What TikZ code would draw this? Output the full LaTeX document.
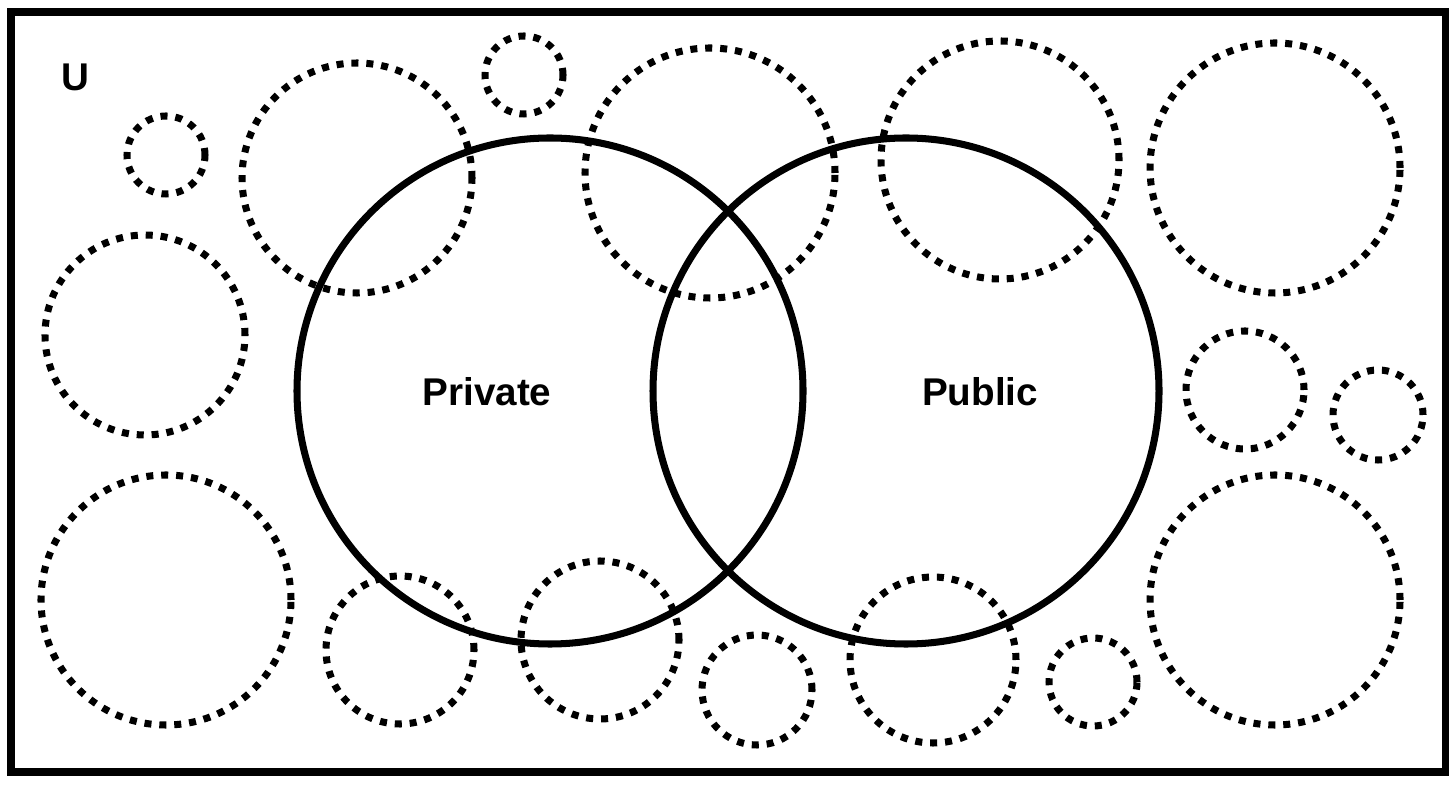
\documentclass[tikz,border=0pt]{standalone}
\usepackage{fontspec}
\usepackage{tikz}
\usetikzlibrary{positioning,calc}
\newfontfamily\vennfont{Liberation Sans}

\tikzset{
    dotcircle/.style={line width=4pt, dash pattern=on 4pt off 4.5pt},
    setcircle/.style={line width=4pt},
    setlabel/.style={font=\vennfont\bfseries\fontsize{22}{26}\selectfont}
}

\begin{document}
\begin{tikzpicture}[x=0.02cm, y=0.02cm]
    \useasboundingbox (0,0) rectangle (1456,784);
    % universe box
    \draw[line width=4pt] (11,12) rectangle (1445,772);
    \node[setlabel] (universe) at (75,707) {U};

    % other sets, dotted
    \foreach \cx/\cy/\r in {166/629/39, 357/606/115, 524/709/39, 710/611/125,
                            1000/624/119, 1275/616/125, 145/449/100, 1245/394/59,
                            1378/369/45, 166/184/125, 400/134/74, 600/144/79,
                            757/94/55, 933/124/83, 1093/102/44, 1275/184/125} {
        \draw[dotcircle] (\cx,\cy) circle[radius=\r];
    }

    % the two main sets
    \draw[setcircle] (550,393) circle[radius=253];
    \draw[setcircle] (906,393) circle[radius=253];
    \node[setlabel] (private) at (487,392) {Private};
    \node[setlabel] (public) at (980,392) {Public};
\end{tikzpicture}
\end{document}
